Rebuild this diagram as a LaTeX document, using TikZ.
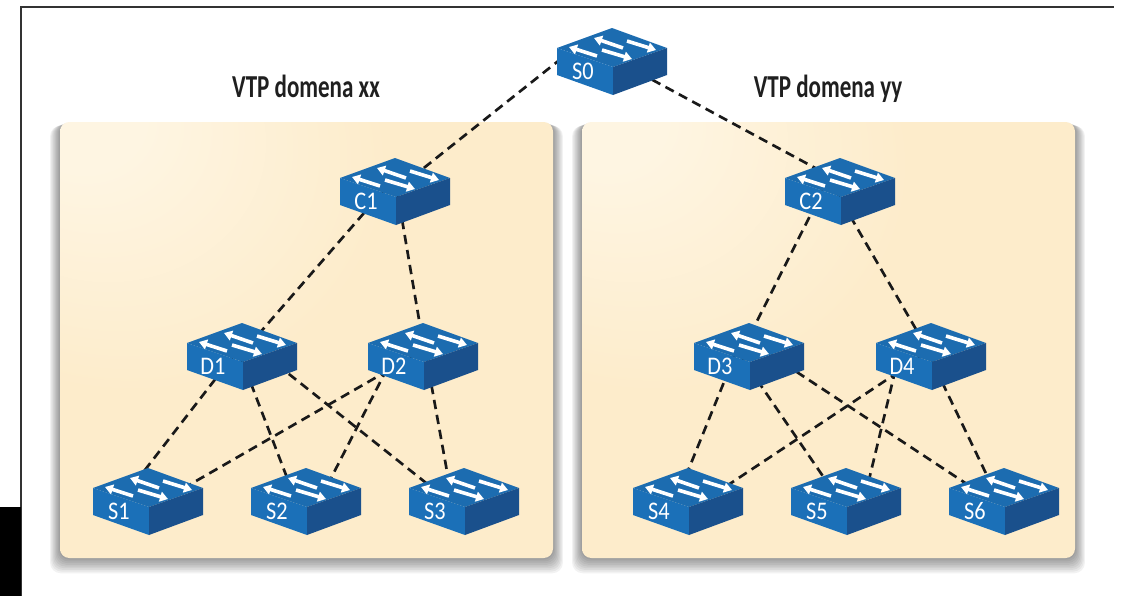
\documentclass[tikz,border=0pt]{standalone}
\usepackage{fontspec}
\usepackage{xcolor}
\usetikzlibrary{arrows.meta, calc}
\setmainfont{Carlito}
\newfontfamily\titlefont[FakeStretch=0.72]{Carlito}
\newfontfamily\swfont[FakeStretch=0.88]{Carlito}
\definecolor{panelbase}{RGB}{253, 236, 203}
\definecolor{panelpale}{RGB}{254, 245, 226}
\definecolor{swtopcolor}{RGB}{28, 108, 176}
\definecolor{swleftcolor}{RGB}{27, 112, 184}
\definecolor{swrightcolor}{RGB}{26, 80, 140}
\pgfdeclareradialshading{panelglow}{\pgfpoint{-24bp}{27bp}}{color(0bp)=(panelpale); color(6bp)=(panelpale); color(26bp)=(panelbase); color(100bp)=(panelbase)}

\begin{document}
\begin{tikzpicture}[
    x=0.75pt, y=-0.75pt,
    panelbox/.style={rectangle, rounded corners=7pt, minimum width=369.75pt, minimum height=327pt,
                     inner sep=0pt, shading=panelglow},
    panelshade/.style={black, opacity=0.05, rounded corners=8pt},
    domaintitle/.style={font=\titlefont\fontsize{24}{24}\bfseries\selectfont, text=black!88, anchor=base},
    swhub/.style={rectangle, minimum width=81pt, minimum height=50pt, inner sep=0pt},
    swlabel/.style={font=\swfont\fontsize{19}{19}\selectfont, text=white, anchor=base},
    swarrow/.style={white, line width=2.7pt, -{Triangle[length=6pt, width=7.5pt]}},
    trunk/.style={black!90, line width=2pt, dash pattern=on 7pt off 4.4pt},
    pics/netswitch/.style={code={
        \fill[swtopcolor] (-55,-12) -- (0,-32) -- (55,-12) -- (1,7) -- cycle;
        \fill[swleftcolor] (-55,-12) -- (1,7) -- (1,35) -- (-55,15) -- cycle;
        \fill[swrightcolor] (55,-12) -- (1,7) -- (1,35) -- (55,15) -- cycle;
        \draw[swarrow] (-15,-4) -- (-43,-13);
        \draw[swarrow] (11,-12) -- (-18,-22);
        \draw[swarrow] (15,-19) -- (44,-10);
        \draw[swarrow] (-10,-10) -- (20,-1);
        \node[swlabel] (-lbl) at (-29,19) {#1};
    }}
]
\useasboundingbox (0,0) rectangle (1122,596);

% Page frame
\draw[black!80, line width=0.9pt] (21,596) -- (21,7) -- (1114,7);
\fill[black] (0,507) rectangle (21,596);

% Panels
\foreach \pname/\px in {panelxx/60, panelyy/582} {
    \foreach \s in {1,...,9} {
        \fill[panelshade] (\px-\s*1.1,122+\s*0.4) rectangle (\px+493+\s*1.1,558+\s*1.7);
    }
    \node[panelbox] (\pname) at (\px+246.5,340) {};
}

% Domain titles
\node[domaintitle] (titlexx) at (306,97) {VTP domena xx};
\node[domaintitle] (titleyy) at (828,97) {VTP domena yy};

% Switch positions
\foreach \sw/\sx/\sy in {S0/612/60, C1/395/190, C2/840/190,
                         D1/242/355, D2/423/355, D3/749/355, D4/931/355,
                         S1/148/500, S2/306/500, S3/464/500,
                         S4/688/500, S5/846/500, S6/1004/500} {
    \node[swhub] (\sw) at (\sx,\sy) {};
}

% Trunks
\draw[trunk] ($(S0)+(-50,-2)$) -- ($(C1)+(20,-15)$);
\draw[trunk] ($(S0)+(0,-2)$) -- ($(C2)+(-10,-14)$);
\draw[trunk] ($(C1)+(-11,0)$) -- ($(D1)+(9,-12)$);
\draw[trunk] ($(C1)+(2,0)$) -- ($(D2)+(0,-12)$);
\draw[trunk] ($(C2)+(-17,0)$) -- ($(D3)+(-3,-12)$);
\draw[trunk] ($(C2)+(-5,0)$) -- ($(D4)+(-7,-12)$);

\draw[trunk] ($(D1)+(-8,0)$) -- ($(S1)+(-17,-12)$);
\draw[trunk] ($(D1)+(-2,0)$) -- ($(S2)+(-15,-12)$);
\draw[trunk] ($(D1)+(23,0)$) -- ($(S3)+(-24,-6)$);
\draw[trunk] ($(D2)+(-8,0)$) -- ($(S1)+(22,-4)$);
\draw[trunk] ($(D2)+(-29,0)$) -- ($(S2)+(20,-12)$);
\draw[trunk] ($(D2)+(3,0)$) -- ($(S3)+(-14,-12)$);

\draw[trunk] ($(D3)+(-14,0)$) -- ($(S4)+(-7,-12)$);
\draw[trunk] ($(D3)+(-9,0)$) -- ($(S5)+(-15,-12)$);
\draw[trunk] ($(D3)+(22,0)$) -- ($(S6)+(-19,-4)$);
\draw[trunk] ($(D4)+(-7,0)$) -- ($(S4)+(22,-3)$);
\draw[trunk] ($(D4)+(-32,0)$) -- ($(S5)+(21,-12)$);
\draw[trunk] ($(D4)+(-2,0)$) -- ($(S6)+(-11,-12)$);

% Switches
\foreach \sw in {S0,C1,C2,D1,D2,D3,D4,S1,S2,S3,S4,S5,S6} {
    \pic (\sw) at (\sw) {netswitch=\sw};
}

\end{tikzpicture}
\end{document}
